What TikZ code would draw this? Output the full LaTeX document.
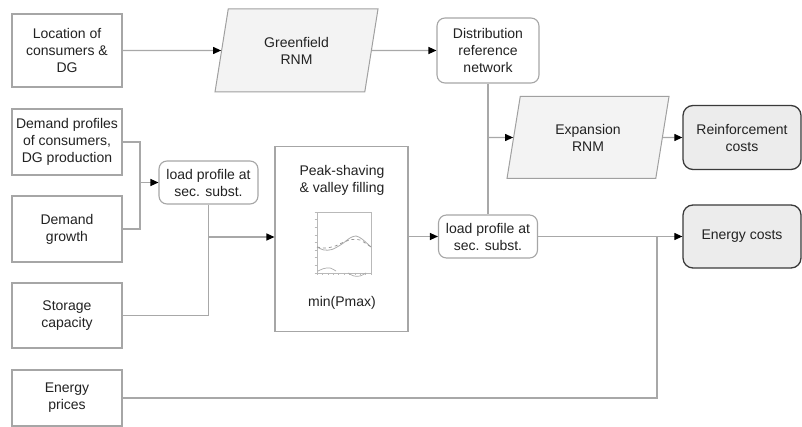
\documentclass[tikz,border=0pt]{standalone}
\usepackage{fontspec}
\setmainfont{Liberation Sans}
\usetikzlibrary{shapes.geometric,arrows.meta}
\definecolor{ln}{HTML}{A8A8A8}
\definecolor{bx}{HTML}{A6A6A6}
\definecolor{pb}{HTML}{A0A0A0}
\definecolor{pf}{HTML}{F3F3F3}
\definecolor{cb}{HTML}{3A3A3A}
\definecolor{cf}{HTML}{ECECEC}
\definecolor{tx}{HTML}{222222}
\begin{document}
\begin{tikzpicture}[x=1pt,y=-1pt,
 font=\fontsize{14}{17}\selectfont, text=tx,
 box/.style={draw=bx, line width=1.1pt, align=center, inner sep=0pt, fill=white},
 inbox/.style={box, minimum width=110pt},
 rbox/.style={box, rounded corners=8pt},
 para/.style={draw=pb, fill=pf, trapezium, trapezium left angle=64, trapezium right angle=116, trapezium stretches body, align=center, inner sep=0pt, line width=1pt},
 cost/.style={draw=cb, fill=cf, rounded corners=10pt, line width=1.3pt, align=center, inner sep=0pt, minimum width=118pt},
 conn/.style={draw=ln, line width=1.2pt},
 arr/.style={conn, -{Triangle[length=8pt,width=7pt,color=black]}},
 chart/.style={draw=gray!55, line width=0.6pt},
 plain/.style={align=center, inner sep=0pt},
]
\useasboundingbox (0,0) rectangle (802,427);

% left inputs
\node[inbox, minimum height=73pt] (loc) at (67,50.5) {Location of\\consumers \&\\DG};
\node[inbox, minimum height=66pt] (dp) at (67,142) {Demand profiles\\of consumers,\\DG production};
\node[inbox, minimum height=66pt] (dg) at (67,229) {Demand\\growth};
\node[inbox, minimum height=65pt] (sc) at (67,315.5) {Storage\\capacity};
\node[inbox, minimum height=56pt] (ep) at (67,398) {Energy\\prices};

\node[rbox, minimum width=99pt, minimum height=43pt] (lpl) at (208.5,182.5) {load profile at\\sec. subst.};

% peak shaving block
\node[box, minimum width=133pt, minimum height=185pt] (ps) at (341.5,239) {};
\node[plain] (pst) at (342,180) {Peak-shaving\\\& valley filling};
\node[plain] (pmin) at (342,303) {min(Pmax)};

% small chart
\draw[chart] (317,212) rectangle (371,273);
\foreach \yy in {212,219.6,227.2,234.8,242.4,250,257.6,265.2,273}
  \draw[chart, line width=0.4pt] (314.5,\yy) -- (317,\yy);
\foreach \xx in {317,322.4,327.8,333.2,338.6,344,349.4,354.8,360.2,365.6,371}
  \draw[chart, line width=0.4pt] (\xx,273) -- (\xx,275.5);
\draw[gray!65, line width=0.8pt] plot[smooth] coordinates {(317,247) (324,250) (332,249.5) (342,244) (350,238) (356,236) (362,239) (371,247)};
\draw[gray!85, dashed, line width=0.7pt] plot[smooth] coordinates {(317,247) (325,248) (334,246.5) (344,242) (352,239.5) (360,240) (371,247)};
\draw[gray!65, line width=0.7pt] plot[smooth] coordinates {(318,271) (324,268.5) (330,268) (336,271)};
\draw[gray!65, line width=0.7pt] plot[smooth] coordinates {(348,273) (354,276) (360,276) (366,273)};

% top row
\node[para, minimum width=163pt, minimum height=83pt] (gf) at (296.5,50.5) {Greenfield\\RNM};
\node[rbox, minimum width=102pt, minimum height=65pt] (drn) at (488,50.5) {Distribution\\reference\\network};
\node[para, minimum width=162pt, minimum height=82pt] (exp) at (588,137.5) {Expansion\\RNM};
\node[cost, minimum height=64pt] (rc) at (742,137.5) {Reinforcement\\costs};
\node[rbox, minimum width=99pt, minimum height=43pt] (lpr) at (488,236.5) {load profile at\\sec. subst.};
\node[cost, minimum height=63pt] (ec) at (742,236.5) {Energy costs};

% connectors
\draw[arr] (loc) -- (gf);
\draw[arr] (gf) -- (drn);
\draw[conn] (drn) -- (lpr);
\coordinate (j1) at (488,137.5);
\draw[arr] (j1) -- (exp);
\draw[arr] (exp) -- (rc);

\coordinate (c2) at (140,229);
\draw[conn] (dp.east) -| (c2) -- (dg.east);
\coordinate (c3) at (140,182.5);
\draw[arr] (c3) -- (lpl);
\draw[conn] (lpl.south) |- (sc.east);
\coordinate (c4) at (208.5,237);
\draw[arr] (c4) -- (c4 -| ps.west);
\draw[arr] (ps.east |- lpr) -- (lpr);
\draw[arr] (lpr) -- (ec);
\coordinate (j2) at (657,236.5);
\draw[conn] (ep.east) -| (j2);
\end{tikzpicture}
\end{document}
